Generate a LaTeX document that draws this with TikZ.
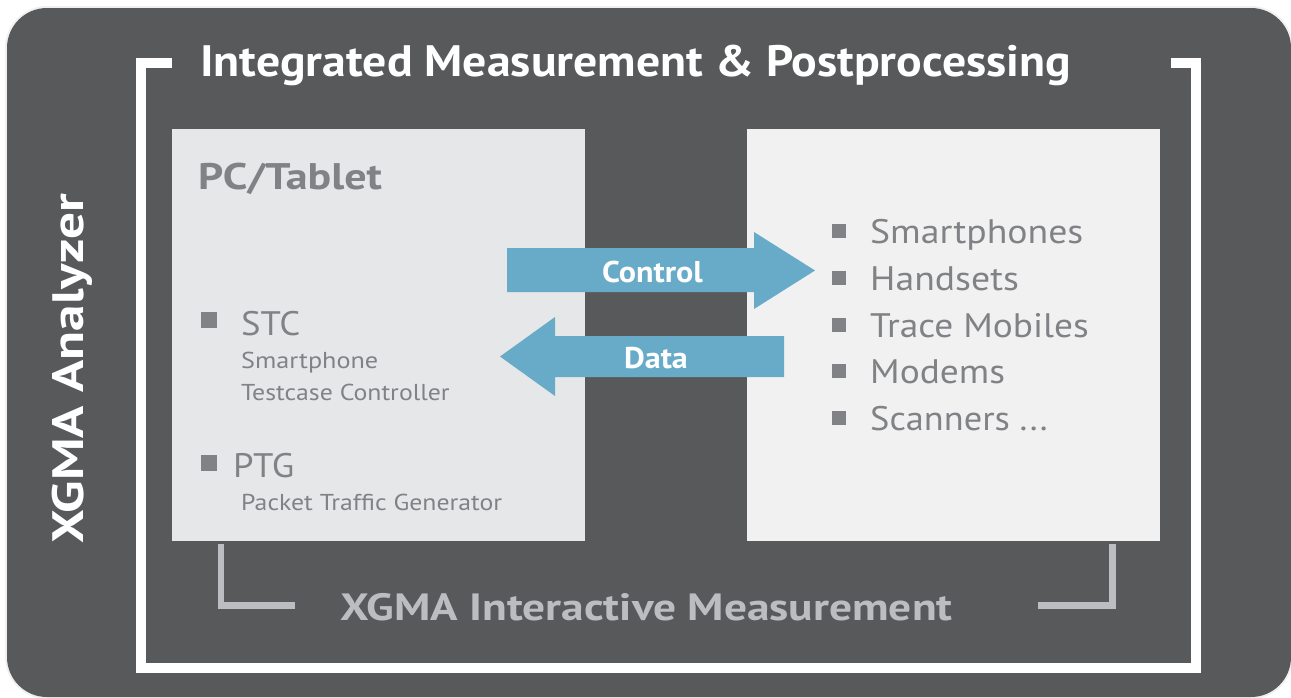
\documentclass[tikz,border=0pt]{standalone}
\usepackage{fontspec}
\setmainfont{PT Sans}
\definecolor{dark}{HTML}{58595B}
\definecolor{boxL}{HTML}{E6E7E8}
\definecolor{boxR}{HTML}{F1F1F2}
\definecolor{txt}{HTML}{808285}
\definecolor{brk}{HTML}{BCBDC0}
\definecolor{arr}{HTML}{68ABC8}
\newcommand{\wide}[2]{\scalebox{#1}[1]{#2}}
\tikzset{
  panel/.style={fill=#1, draw=none, anchor=north west, inner sep=0pt, minimum width=413pt, minimum height=412pt},
  bul/.style={fill=txt, draw=none, inner sep=0pt, minimum size=#1},
  item/.style={anchor=base west, inner sep=0pt, text=txt, font=\fontsize{34}{34}\selectfont},
  sub/.style={anchor=base west, inner sep=0pt, text=txt, font=\fontsize{23}{23}\selectfont},
  lbl/.style={anchor=base, inner sep=0pt, text=white, font=\bfseries\fontsize{30}{30}\selectfont},
}
\begin{document}
\begin{tikzpicture}[x=1pt,y=-1pt]
\useasboundingbox (0,0) rectangle (1291,697);
% outer panel
\fill[black!6, rounded corners=42pt] (5,6) rectangle (1293,699);
\fill[dark, rounded corners=40pt] (7,8) rectangle (1291,697);
% white frame
\draw[white, line width=10pt] (172,63) -- (141,63) -- (141,668) -- (1196,668) -- (1196,63) -- (1171,63);
% grey brackets
\draw[brk, line width=6.5pt] (221,544) -- (221,605.5) -- (295,605.5);
\draw[brk, line width=6.5pt] (1112.5,544) -- (1112.5,605.5) -- (1038,605.5);
% panels
\node[panel=boxL] (pc) at (172,129) {};
\node[panel=boxR] (dev) at (747,129) {};
% arrows
\fill[arr] (507,248) -- (754,248) -- (754,232) -- (815,270.5) -- (754,309) -- (754,292) -- (507,292) -- cycle;
\fill[arr] (784,336) -- (555,336) -- (555,317) -- (500,356.5) -- (555,396) -- (555,377) -- (784,377) -- cycle;
\node[lbl] (ctl) at (652.5,282) {\wide{1.07}{Control}};
\node[lbl] (dat) at (656,368) {\wide{1.07}{Data}};
% titles
\node[anchor=base west, inner sep=0pt, text=white, font=\bfseries\fontsize{44}{44}\selectfont] (title) at (200,76) {\wide{1.085}{Integrated Measurement \& Postprocessing}};
\node[anchor=base, inner sep=0pt, text=white, rotate=90, font=\bfseries\fontsize{44}{44}\selectfont] (side) at (83,369) {\wide{1.21}{XGMA Analyzer}};
\node[anchor=base west, inner sep=0pt, text=brk, font=\bfseries\fontsize{38}{38}\selectfont] (bottom) at (340,620) {\wide{1.195}{XGMA Interactive Measurement}};
\node[anchor=base west, inner sep=0pt, text=txt, font=\bfseries\fontsize{37}{37}\selectfont] (pct) at (198,189) {\wide{1.19}{PC/Tablet}};
% left list
\node[bul=16pt] (b1) at (208.5,320) {};
\node[item] (stc) at (241,335) {\wide{1.08}{STC}};
\node[sub] (stc1) at (241,368) {\wide{1.14}{Smartphone}};
\node[sub] (stc2) at (241,400) {\wide{1.12}{Testcase Controller}};
\node[bul=16pt] (b2) at (208.5,462.5) {};
\node[item] (ptg) at (233,477) {\wide{1.08}{PTG}};
\node[sub] (ptg1) at (241,510) {\wide{1.12}{Packet Traffic Generator}};
% right list
\node[bul=14pt] (rb1) at (839,231) {};
\node[item] (ri1) at (870,243) {\wide{1.11}{Smartphones}};
\node[bul=14pt] (rb2) at (839,278) {};
\node[item] (ri2) at (870,290) {\wide{1.11}{Handsets}};
\node[bul=14pt] (rb3) at (839,325) {};
\node[item] (ri3) at (870,337) {\wide{1.1}{Trace Mobiles}};
\node[bul=14pt] (rb4) at (839,371) {};
\node[item] (ri4) at (870,383) {\wide{1.1}{Modems}};
\node[bul=14pt] (rb5) at (839,418) {};
\node[item] (ri5) at (870,430) {\wide{1.07}{Scanners ...}};
\end{tikzpicture}
\end{document}
